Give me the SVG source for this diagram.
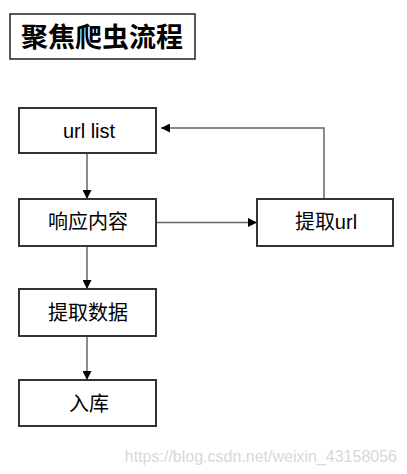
<svg xmlns="http://www.w3.org/2000/svg" width="407" height="474" viewBox="0 0 407 474">
<defs>
<marker id="ah" viewBox="0 0 10 10" refX="10" refY="5" markerWidth="9" markerHeight="9" markerUnits="userSpaceOnUse" orient="auto">
<path d="M0,0 L10,5 L0,10 z" fill="#000"/>
</marker>
</defs>
<style>
.box{fill:#fff;stroke:#333;stroke-width:2}
.lbl{font-family:"Liberation Sans","Noto Sans CJK SC",sans-serif;font-size:20px;fill:#000;text-anchor:middle}
.conn{fill:none;stroke:#666;stroke-width:1.5;marker-end:url(#ah)}
</style>
<rect width="407" height="474" fill="#fff"/>
<g id="title">
<rect x="10" y="14" width="185" height="45" fill="#fff" stroke="#222" stroke-width="1.5"/>
<text x="102" y="47" font-family="'Noto Sans CJK SC',sans-serif" font-size="27" font-weight="bold" text-anchor="middle">聚焦爬虫流程</text>
</g>
<g id="connectors">
<path class="conn" d="M87,153 V199"/>
<path class="conn" d="M156,222.5 H257"/>
<path class="conn" d="M324,199 V128 H161"/>
<path class="conn" d="M87,246 V289"/>
<path class="conn" d="M87,336 V380"/>
</g>
<g id="url-list">
<rect class="box" x="19" y="108" width="137" height="45"/>
<text class="lbl" x="89" y="138">url list</text>
</g>
<g id="response">
<rect class="box" x="19" y="199" width="137" height="47"/>
<text class="lbl" x="88" y="229">响应内容</text>
</g>
<g id="extract-url">
<rect class="box" x="257" y="199" width="136" height="47"/>
<text class="lbl" x="326" y="229">提取url</text>
</g>
<g id="extract-data">
<rect class="box" x="19" y="289" width="137" height="47"/>
<text class="lbl" x="88" y="320">提取数据</text>
</g>
<g id="store">
<rect class="box" x="19" y="380" width="137" height="46"/>
<text class="lbl" x="89" y="411">入库</text>
</g>
<text x="397" y="462" font-family="'Liberation Sans',sans-serif" font-size="16" fill="#d8d8d8" text-anchor="end">https://blog.csdn.net/weixin_43158056</text>
</svg>
